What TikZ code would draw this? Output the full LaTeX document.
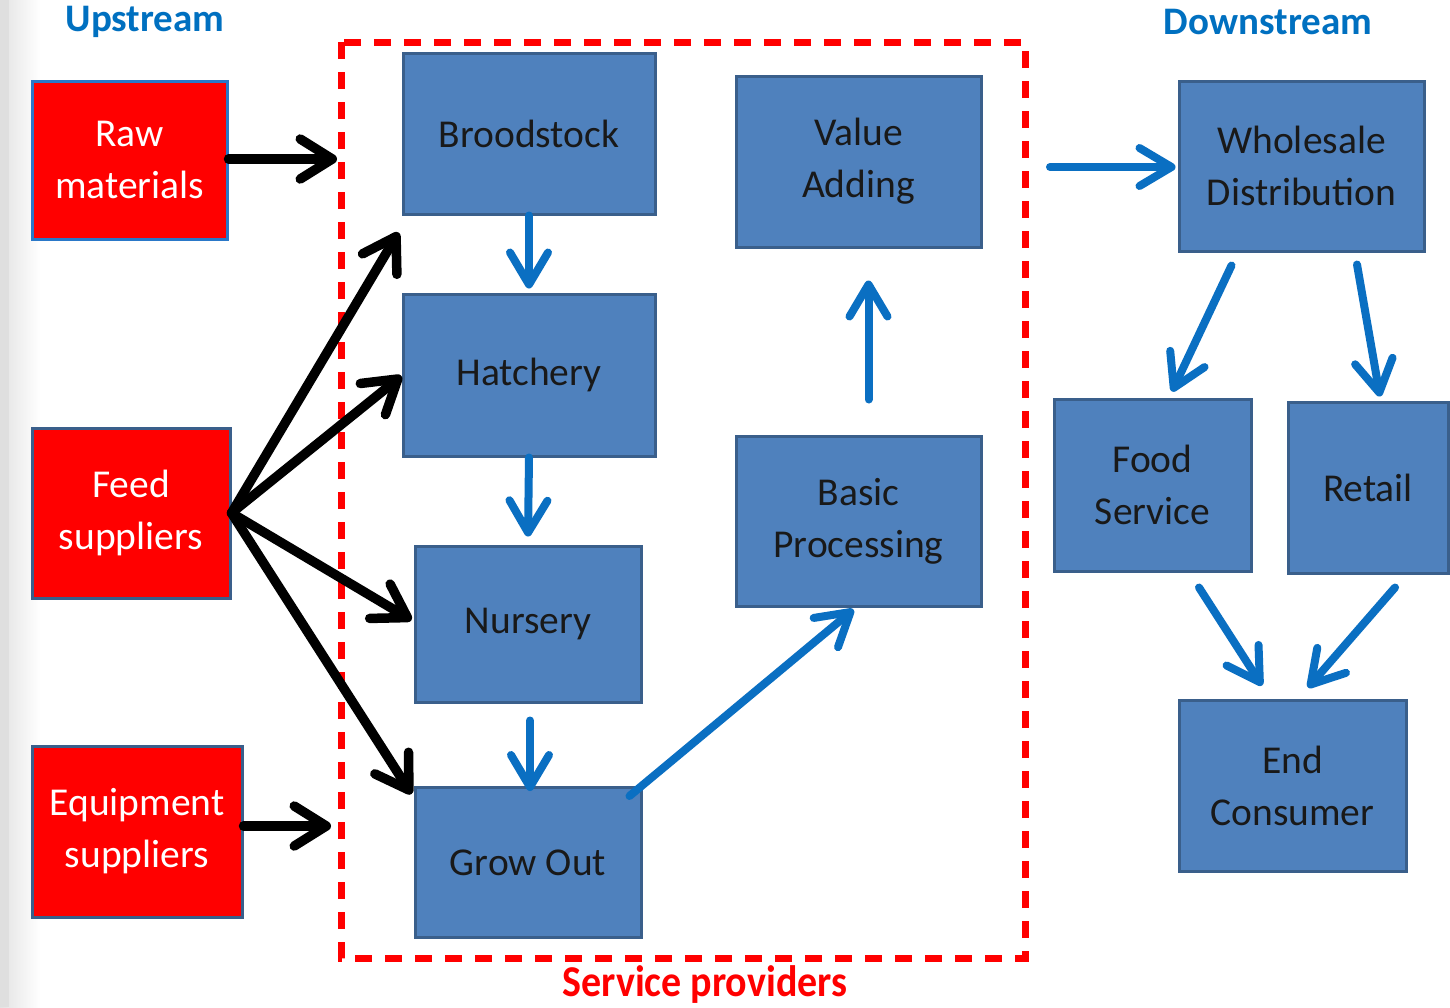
\documentclass[tikz,border=0pt]{standalone}
\usepackage{fontspec}
\setmainfont{Carlito}
\usetikzlibrary{arrows.meta,calc}
\definecolor{boxblue}{HTML}{4F81BD}
\definecolor{boxedge}{HTML}{3A5F8B}
\definecolor{arrblue}{HTML}{0A6FC2}
\definecolor{titleblue}{HTML}{0070C0}
\definecolor{rawedge}{HTML}{2A78C8}
\tikzset{
  bluebox/.style={draw=boxedge, line width=3pt, fill=boxblue, text=black!90,
    align=center, inner sep=0pt, font=\fontsize{39.5}{52}\selectfont},
  redbox/.style={draw=boxedge, line width=3pt, fill=red, text=white,
    align=center, inner sep=0pt, font=\fontsize{39.5}{52}\selectfont},
  blackarrow/.style={draw=black, line width=9.5pt, line cap=round,
    -{Straight Barb[length=32pt,width=40pt,line cap=round,line join=round]}},
  bluearrow/.style={draw=arrblue, line width=8pt, line cap=round,
    -{Straight Barb[length=32pt,width=38pt,line cap=round,line join=round]}},
  title/.style={font=\bfseries\fontsize{39}{46}\selectfont, text=titleblue, inner sep=0pt},
}
\begin{document}
\begin{tikzpicture}[x=1pt,y=-1pt]
\useasboundingbox (0,0) rectangle (1450,1007);
\fill[white] (0,0) rectangle (1450,1007);
\shade[left color=gray!22, right color=white] (0,0) rectangle (40,1007);
\fill[gray!25] (0,0) rectangle (9,1007);

% titles
\node[title] (up) at (145,22) {Upstream};
\node[title] (down) at (1268,22) {Downstream};
\node[font=\bfseries\fontsize{40}{46}\selectfont, text=red, inner sep=0pt, yscale=1.1] (sp) at (705,985) {Service providers};

% dashed frame
\draw[red, line width=7pt, dash pattern=on 17pt off 13pt] (341,42) rectangle (1025,958);

% upstream boxes
\node[redbox, draw=rawedge, minimum width=195pt, minimum height=158pt] (raw) at (129.5,160) {Raw\\materials};
\node[redbox, minimum width=198pt, minimum height=170pt] (feed) at (131,513) {Feed\\suppliers};
\node[redbox, minimum width=210pt, minimum height=171pt] (equip) at (137,831.5) {Equipment\\suppliers};

% production boxes
\node[bluebox, minimum width=252pt, minimum height=161pt] (brood) at (529,133.5) {Broodstock};
\node[bluebox, minimum width=252pt, minimum height=162pt] (hatch) at (529,375) {Hatchery};
\node[bluebox, minimum width=226pt, minimum height=156pt] (nurs) at (528,624) {Nursery};
\node[bluebox, minimum width=226pt, minimum height=150pt] (grow) at (528,862.5) {Grow Out};
\node[bluebox, minimum width=245pt, minimum height=171pt] (va) at (858.5,161.5) {Value\\Adding};
\node[bluebox, minimum width=245pt, minimum height=170pt] (bp) at (858.5,521) {Basic\\Processing};

% downstream boxes
\node[bluebox, minimum width=245pt, minimum height=170pt] (ws) at (1301.5,166) {Wholesale\\Distribution};
\node[bluebox, minimum width=197pt, minimum height=172pt] (fs) at (1152.5,485) {Food\\Service};
\node[bluebox, minimum width=160pt, minimum height=171pt] (retail) at (1368,487.5) {Retail};
\node[bluebox, minimum width=227pt, minimum height=171pt] (endc) at (1292.5,785.5) {End\\Consumer};

% free ends on the frame
\coordinate (rawend) at (337,159);
\coordinate (equipend) at (331,826);
\coordinate (framestart) at (1050,167);

% black arrows
\draw[blackarrow] (raw.east |- rawend) -- (rawend);
\draw[blackarrow] (equip.east |- equipend) -- (equipend);
\draw[blackarrow] (feed.east) -- ($(brood.south west)+(-3,17)$);
\draw[blackarrow] (feed.east) -- ($(hatch.west)+(0,1)$);
\draw[blackarrow] (feed.east) -- ($(nurs.west)+(-2,-4)$);
\draw[blackarrow] (feed.east) -- ($(grow.north west)+(-2,8)$);

% blue arrows
\draw[bluearrow] (brood.south) -- ($(hatch.north)+(0,-4)$);
\draw[bluearrow] (hatch.south) -- ($(nurs.north)+(0,-8)$);
\draw[bluearrow] ($(nurs.south)+(2,17)$) -- ($(grow.north)+(2,5)$);
\draw[bluearrow] ($(grow.north east)+(-13,10)$) -- ($(bp.south)+(-5,2)$);
\draw[bluearrow] ($(bp.north)+(10,-35)$) -- ($(va.south)+(10,32)$);
\draw[bluearrow] (framestart) -- ($(ws.west)+(-2,1)$);
\draw[bluearrow] ($(ws.south west)+(54,13)$) -- ($(fs.north)+(19.5,-6)$);
\draw[bluearrow] ($(ws.south)+(55.5,12)$) -- ($(retail.north)+(12,-4)$);
\draw[bluearrow] ($(fs.south)+(46.5,15)$) -- ($(endc.north)+(-30.5,-13)$);
\draw[bluearrow] ($(retail.south)+(27,13)$) -- ($(endc.north)+(15.5,-11)$);
\end{tikzpicture}
\end{document}
